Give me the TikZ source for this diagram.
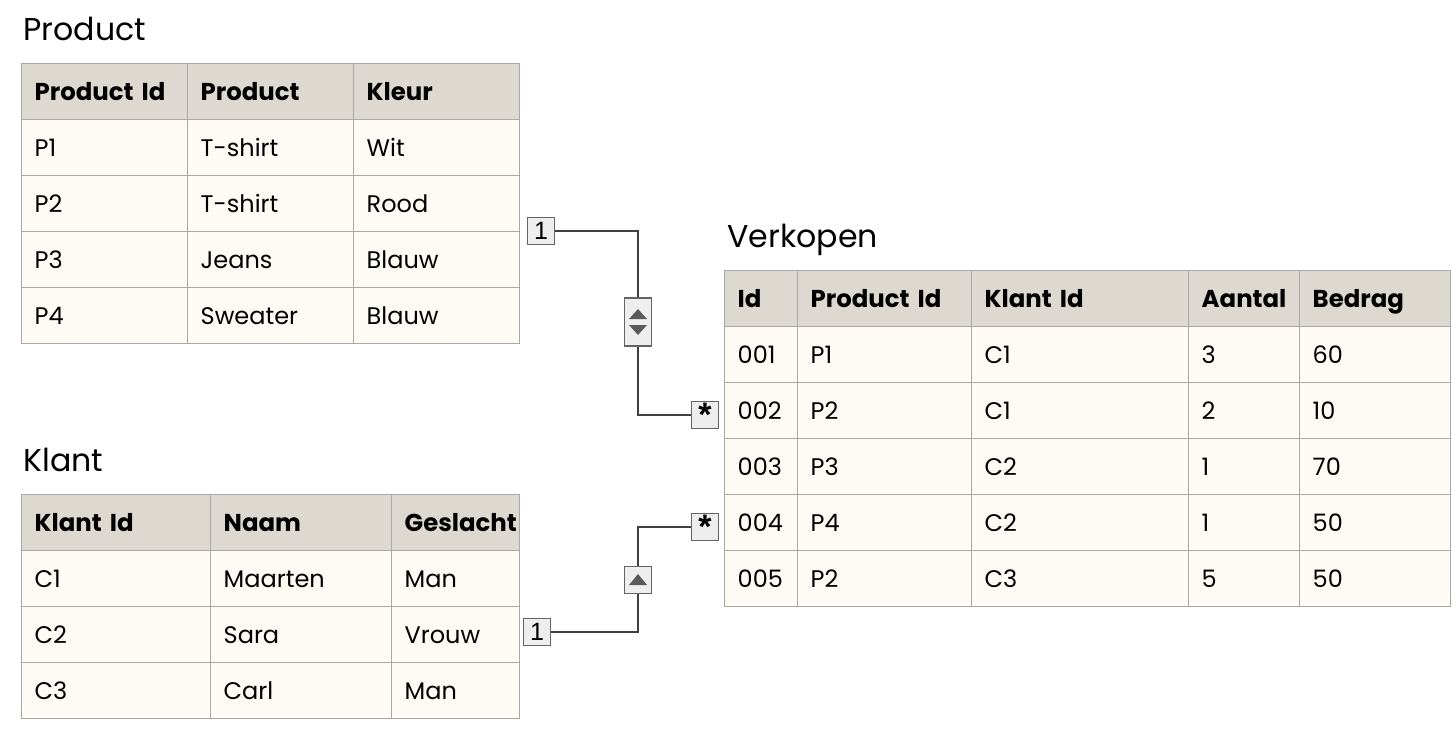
\documentclass[tikz,border=0pt]{standalone}
\usepackage{fontspec}
\setmainfont{Poppins}
\newfontfamily\markfont{Liberation Sans}
\definecolor{headfill}{RGB}{222,217,208}
\definecolor{bodyfill}{RGB}{254,251,244}
\definecolor{gridline}{RGB}{168,168,168}
\definecolor{markfill}{RGB}{238,238,238}
\definecolor{markline}{RGB}{100,100,100}
\definecolor{linkline}{RGB}{64,64,64}
\definecolor{markglyph}{RGB}{90,90,90}
\begin{document}
\begin{tikzpicture}[x=0.5pt, y=-0.5pt, every node/.style={font=\fontsize{12}{14}\selectfont}]
  \tikzset{
    cell/.style={draw=gridline, line width=0.7pt, anchor=north west, inner xsep=6.5pt, inner ysep=0pt,
      minimum height=28pt, text width=#1, align=left, text height=10.5pt, text depth=2pt},
    head/.style={cell=#1, fill=headfill, font=\fontsize{12.2}{14}\selectfont\bfseries},
    body/.style={cell=#1, fill=bodyfill},
    title/.style={anchor=west, inner sep=0pt, font=\fontsize{15.8}{18}\selectfont},
    markbox/.style={draw=markline, fill=markfill, line width=0.6pt, inner sep=0pt,
      minimum width=13.5pt, minimum height=13.5pt, font=\markfont\fontsize{12.5}{14}\selectfont},
    star/.style={markbox, font=\markfont\fontsize{17}{17}\selectfont\bfseries},
    link/.style={draw=linkline, line width=1pt}
  }
  \useasboundingbox[fill=white] (0,0) rectangle (1456,733);

  % Product
  \node[title] (ttl-prod) at (23,29) {Product};
  \node[head=70pt] (prod-0-1) at (21,63) {Product Id};
  \node[head=70pt] (prod-0-2) at (187,63) {Product};
  \node[head=70pt] (prod-0-3) at (353,63) {Kleur};
  \foreach \a/\b/\c [count=\r] in {P1/T-shirt/Wit, P2/T-shirt/Rood, P3/Jeans/Blauw, P4/Sweater/Blauw} {
    \node[body=70pt] (prod-\r-1) at (21,{63+56*\r}) {\a};
    \node[body=70pt] (prod-\r-2) at (187,{63+56*\r}) {\b};
    \node[body=70pt] (prod-\r-3) at (353,{63+56*\r}) {\c};
  }

  % Klant
  \node[title] (ttl-klant) at (23,460) {Klant};
  \begin{scope}
    \clip (0,480) rectangle (520,733);
    \node[head=81.5pt] (klant-0-1) at (21,494) {Klant Id};
    \node[head=77.5pt] (klant-0-2) at (210,494) {Naam};
    \node[head=51pt] (klant-0-3) at (391,494) {Geslacht};
    \foreach \a/\b/\c [count=\r] in {C1/Maarten/Man, C2/Sara/Vrouw, C3/Carl/Man} {
      \node[body=81.5pt] (klant-\r-1) at (21,{494+56*\r}) {\a};
      \node[body=77.5pt] (klant-\r-2) at (210,{494+56*\r}) {\b};
      \node[body=51pt] (klant-\r-3) at (391,{494+56*\r}) {\c};
    }
  \end{scope}

  % Verkopen
  \node[title] (ttl-verk) at (727,240) {Verkopen};
  \node[head=23.5pt] (verk-0-1) at (724,270) {Id};
  \node[head=74pt] (verk-0-2) at (797,270) {Product Id};
  \node[head=95.5pt] (verk-0-3) at (971,270) {Klant Id};
  \node[head=42.5pt] (verk-0-4) at (1188,270) {Aantal};
  \node[head=62.5pt] (verk-0-5) at (1299,270) {Bedrag};
  \foreach \a/\b/\c/\d/\e [count=\r] in {001/P1/C1/3/60, 002/P2/C1/2/10, 003/P3/C2/1/70, 004/P4/C2/1/50, 005/P2/C3/5/50} {
    \node[body=23.5pt] (verk-\r-1) at (724,{270+56*\r}) {\a};
    \node[body=74pt] (verk-\r-2) at (797,{270+56*\r}) {\b};
    \node[body=95.5pt] (verk-\r-3) at (971,{270+56*\r}) {\c};
    \node[body=42.5pt] (verk-\r-4) at (1188,{270+56*\r}) {\d};
    \node[body=62.5pt] (verk-\r-5) at (1299,{270+56*\r}) {\e};
  }

  % relations
  \node[markbox] (one-prod) at (541,231) {1};
  \node[markbox, minimum height=24pt] (dir-prod) at (638,322) {};
  \node[star] (many-prod) at (705,415) {\raisebox{-0.45ex}{*}};
  \draw[link] (one-prod) -| (dir-prod);
  \draw[link] (dir-prod) |- (many-prod);
  \fill[markglyph] (dir-prod.center) ++(-9,-3) -- ++(18,0) -- ++(-9,-10) -- cycle;
  \fill[markglyph] (dir-prod.center) ++(-9,3) -- ++(18,0) -- ++(-9,10) -- cycle;

  \node[markbox] (one-klant) at (537,632) {1};
  \node[markbox] (dir-klant) at (638,580) {};
  \node[star] (many-klant) at (705,527) {\raisebox{-0.45ex}{*}};
  \draw[link] (one-klant) -| (dir-klant);
  \draw[link] (dir-klant) |- (many-klant);
  \fill[markglyph] (dir-klant.center) ++(-9,5) -- ++(18,0) -- ++(-9,-11) -- cycle;
\end{tikzpicture}
\end{document}
